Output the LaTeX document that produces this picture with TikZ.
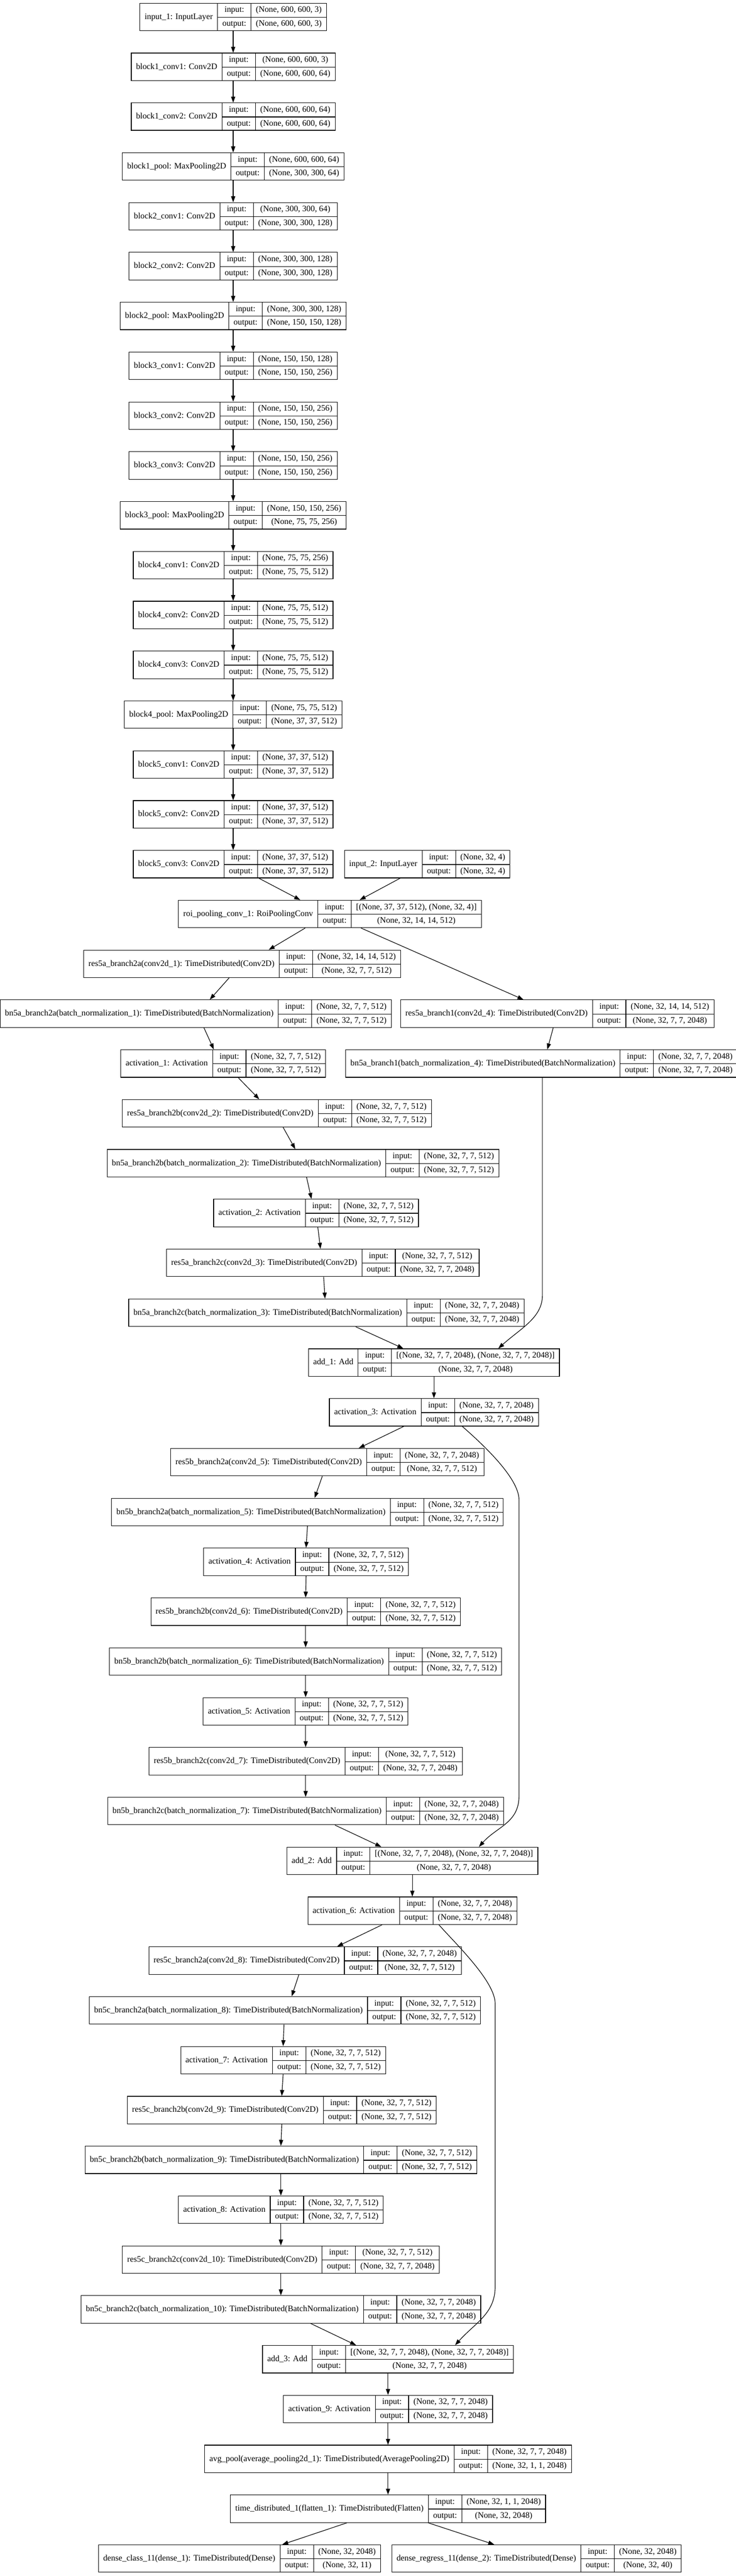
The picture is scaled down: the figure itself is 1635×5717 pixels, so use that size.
\documentclass[tikz,border=0pt]{standalone}
\usepackage{fontspec}
\setmainfont{Liberation Serif}
\usetikzlibrary{arrows.meta}

\setlength{\tabcolsep}{10.67pt}
\setlength{\arrayrulewidth}{1.33pt}
\newcommand{\rowstrut}{\rule[-10.3pt]{0pt}{30.5pt}}
% record: name | input/output | shapes
\newcommand{\rec}[3]{\begin{tabular}{c|c|c}
	& \rowstrut input: & #2 \\ \cline{2-3}
	\raisebox{15.25pt}[0pt][0pt]{#1} & \rowstrut output: & #3
\end{tabular}}

\begin{document}
\begin{tikzpicture}[
	x = 1pt, y = 1pt,
	> = {Triangle[length=13.3pt, width=9.3pt]}, % arrow head style
	line width = 1.33pt, % line style
	Rec/.style={draw=black, inner sep=0pt, anchor=north, font=\fontsize{18.67}{22.4}\selectfont},
	]
	\useasboundingbox (0,0) rectangle (1635,-5717);

	% Nodes, one row every 110.6
	\node[Rec] (in1)  at (518,-6.5)    {\rec{input\_1: InputLayer}{(None, 600, 600, 3)}{(None, 600, 600, 3)}};
	\node[Rec] (b1c1) at (518,-117.1)  {\rec{block1\_conv1: Conv2D}{(None, 600, 600, 3)}{(None, 600, 600, 64)}};
	\node[Rec] (b1c2) at (518,-227.7)  {\rec{block1\_conv2: Conv2D}{(None, 600, 600, 64)}{(None, 600, 600, 64)}};
	\node[Rec] (b1p)  at (518,-338.3)  {\rec{block1\_pool: MaxPooling2D}{(None, 600, 600, 64)}{(None, 300, 300, 64)}};
	\node[Rec] (b2c1) at (518,-448.9)  {\rec{block2\_conv1: Conv2D}{(None, 300, 300, 64)}{(None, 300, 300, 128)}};
	\node[Rec] (b2c2) at (518,-559.5)  {\rec{block2\_conv2: Conv2D}{(None, 300, 300, 128)}{(None, 300, 300, 128)}};
	\node[Rec] (b2p)  at (518,-670.1)  {\rec{block2\_pool: MaxPooling2D}{(None, 300, 300, 128)}{(None, 150, 150, 128)}};
	\node[Rec] (b3c1) at (518,-780.7)  {\rec{block3\_conv1: Conv2D}{(None, 150, 150, 128)}{(None, 150, 150, 256)}};
	\node[Rec] (b3c2) at (518,-891.3)  {\rec{block3\_conv2: Conv2D}{(None, 150, 150, 256)}{(None, 150, 150, 256)}};
	\node[Rec] (b3c3) at (518,-1001.9) {\rec{block3\_conv3: Conv2D}{(None, 150, 150, 256)}{(None, 150, 150, 256)}};
	\node[Rec] (b3p)  at (518,-1112.5) {\rec{block3\_pool: MaxPooling2D}{(None, 150, 150, 256)}{(None, 75, 75, 256)}};
	\node[Rec] (b4c1) at (518,-1223.1) {\rec{block4\_conv1: Conv2D}{(None, 75, 75, 256)}{(None, 75, 75, 512)}};
	\node[Rec] (b4c2) at (518,-1333.7) {\rec{block4\_conv2: Conv2D}{(None, 75, 75, 512)}{(None, 75, 75, 512)}};
	\node[Rec] (b4c3) at (518,-1444.3) {\rec{block4\_conv3: Conv2D}{(None, 75, 75, 512)}{(None, 75, 75, 512)}};
	\node[Rec] (b4p)  at (518,-1554.9) {\rec{block4\_pool: MaxPooling2D}{(None, 75, 75, 512)}{(None, 37, 37, 512)}};
	\node[Rec] (b5c1) at (518,-1665.5) {\rec{block5\_conv1: Conv2D}{(None, 37, 37, 512)}{(None, 37, 37, 512)}};
	\node[Rec] (b5c2) at (518,-1776.1) {\rec{block5\_conv2: Conv2D}{(None, 37, 37, 512)}{(None, 37, 37, 512)}};
	\node[Rec] (b5c3) at (518,-1886.7) {\rec{block5\_conv3: Conv2D}{(None, 37, 37, 512)}{(None, 37, 37, 512)}};
	\node[Rec] (in2)  at (949,-1886.7) {\rec{input\_2: InputLayer}{(None, 32, 4)}{(None, 32, 4)}};
	\node[Rec] (roi)  at (733,-1997.3) {\rec{roi\_pooling\_conv\_1: RoiPoolingConv}{[(None, 37, 37, 512), (None, 32, 4)]}{(None, 32, 14, 14, 512)}};

	\node[Rec] (r5a2a)  at (538,-2107.9)  {\rec{res5a\_branch2a(conv2d\_1): TimeDistributed(Conv2D)}{(None, 32, 14, 14, 512)}{(None, 32, 7, 7, 512)}};
	\node[Rec] (bn5a2a) at (435,-2218.5)  {\rec{bn5a\_branch2a(batch\_normalization\_1): TimeDistributed(BatchNormalization)}{(None, 32, 7, 7, 512)}{(None, 32, 7, 7, 512)}};
	\node[Rec] (r5a1)   at (1238,-2218.5) {\rec{res5a\_branch1(conv2d\_4): TimeDistributed(Conv2D)}{(None, 32, 14, 14, 512)}{(None, 32, 7, 7, 2048)}};
	\node[Rec] (act1)   at (496,-2329.1)  {\rec{activation\_1: Activation}{(None, 32, 7, 7, 512)}{(None, 32, 7, 7, 512)}};
	\node[Rec] (bn5a1)  at (1203,-2329.1) {\rec{bn5a\_branch1(batch\_normalization\_4): TimeDistributed(BatchNormalization)}{(None, 32, 7, 7, 2048)}{(None, 32, 7, 7, 2048)}};
	\node[Rec] (r5a2b)  at (615,-2439.7)  {\rec{res5a\_branch2b(conv2d\_2): TimeDistributed(Conv2D)}{(None, 32, 7, 7, 512)}{(None, 32, 7, 7, 512)}};
	\node[Rec] (bn5a2b) at (673,-2550.3)  {\rec{bn5a\_branch2b(batch\_normalization\_2): TimeDistributed(BatchNormalization)}{(None, 32, 7, 7, 512)}{(None, 32, 7, 7, 512)}};
	\node[Rec] (act2)   at (702,-2660.9)  {\rec{activation\_2: Activation}{(None, 32, 7, 7, 512)}{(None, 32, 7, 7, 512)}};
	\node[Rec] (r5a2c)  at (717,-2771.5)  {\rec{res5a\_branch2c(conv2d\_3): TimeDistributed(Conv2D)}{(None, 32, 7, 7, 512)}{(None, 32, 7, 7, 2048)}};
	\node[Rec] (bn5a2c) at (725,-2882.1)  {\rec{bn5a\_branch2c(batch\_normalization\_3): TimeDistributed(BatchNormalization)}{(None, 32, 7, 7, 2048)}{(None, 32, 7, 7, 2048)}};
	\node[Rec] (add1)   at (964,-2992.7)  {\rec{add\_1: Add}{[(None, 32, 7, 7, 2048), (None, 32, 7, 7, 2048)]}{(None, 32, 7, 7, 2048)}};
	\node[Rec] (act3)   at (964,-3103.3)  {\rec{activation\_3: Activation}{(None, 32, 7, 7, 2048)}{(None, 32, 7, 7, 2048)}};

	\node[Rec] (r5b2a)  at (727,-3213.9)  {\rec{res5b\_branch2a(conv2d\_5): TimeDistributed(Conv2D)}{(None, 32, 7, 7, 2048)}{(None, 32, 7, 7, 512)}};
	\node[Rec] (bn5b2a) at (683,-3324.5)  {\rec{bn5b\_branch2a(batch\_normalization\_5): TimeDistributed(BatchNormalization)}{(None, 32, 7, 7, 512)}{(None, 32, 7, 7, 512)}};
	\node[Rec] (act4)   at (680,-3435.1)  {\rec{activation\_4: Activation}{(None, 32, 7, 7, 512)}{(None, 32, 7, 7, 512)}};
	\node[Rec] (r5b2b)  at (679,-3545.7)  {\rec{res5b\_branch2b(conv2d\_6): TimeDistributed(Conv2D)}{(None, 32, 7, 7, 512)}{(None, 32, 7, 7, 512)}};
	\node[Rec] (bn5b2b) at (679,-3656.3)  {\rec{bn5b\_branch2b(batch\_normalization\_6): TimeDistributed(BatchNormalization)}{(None, 32, 7, 7, 512)}{(None, 32, 7, 7, 512)}};
	\node[Rec] (act5)   at (679,-3766.9)  {\rec{activation\_5: Activation}{(None, 32, 7, 7, 512)}{(None, 32, 7, 7, 512)}};
	\node[Rec] (r5b2c)  at (679,-3877.5)  {\rec{res5b\_branch2c(conv2d\_7): TimeDistributed(Conv2D)}{(None, 32, 7, 7, 512)}{(None, 32, 7, 7, 2048)}};
	\node[Rec] (bn5b2c) at (679,-3988.1)  {\rec{bn5b\_branch2c(batch\_normalization\_7): TimeDistributed(BatchNormalization)}{(None, 32, 7, 7, 2048)}{(None, 32, 7, 7, 2048)}};
	\node[Rec] (add2)   at (916,-4098.7)  {\rec{add\_2: Add}{[(None, 32, 7, 7, 2048), (None, 32, 7, 7, 2048)]}{(None, 32, 7, 7, 2048)}};
	\node[Rec] (act6)   at (916,-4209.3)  {\rec{activation\_6: Activation}{(None, 32, 7, 7, 2048)}{(None, 32, 7, 7, 2048)}};

	\node[Rec] (r5c2a)  at (678,-4319.9)  {\rec{res5c\_branch2a(conv2d\_8): TimeDistributed(Conv2D)}{(None, 32, 7, 7, 2048)}{(None, 32, 7, 7, 512)}};
	\node[Rec] (bn5c2a) at (633,-4430.5)  {\rec{bn5c\_branch2a(batch\_normalization\_8): TimeDistributed(BatchNormalization)}{(None, 32, 7, 7, 512)}{(None, 32, 7, 7, 512)}};
	\node[Rec] (act7)   at (629,-4541.1)  {\rec{activation\_7: Activation}{(None, 32, 7, 7, 512)}{(None, 32, 7, 7, 512)}};
	\node[Rec] (r5c2b)  at (626,-4651.7)  {\rec{res5c\_branch2b(conv2d\_9): TimeDistributed(Conv2D)}{(None, 32, 7, 7, 512)}{(None, 32, 7, 7, 512)}};
	\node[Rec] (bn5c2b) at (624,-4762.3)  {\rec{bn5c\_branch2b(batch\_normalization\_9): TimeDistributed(BatchNormalization)}{(None, 32, 7, 7, 512)}{(None, 32, 7, 7, 512)}};
	\node[Rec] (act8)   at (624,-4872.9)  {\rec{activation\_8: Activation}{(None, 32, 7, 7, 512)}{(None, 32, 7, 7, 512)}};
	\node[Rec] (r5c2c)  at (624,-4983.5)  {\rec{res5c\_branch2c(conv2d\_10): TimeDistributed(Conv2D)}{(None, 32, 7, 7, 512)}{(None, 32, 7, 7, 2048)}};
	\node[Rec] (bn5c2c) at (624,-5094.1)  {\rec{bn5c\_branch2c(batch\_normalization\_10): TimeDistributed(BatchNormalization)}{(None, 32, 7, 7, 2048)}{(None, 32, 7, 7, 2048)}};
	\node[Rec] (add3)   at (862,-5204.7)  {\rec{add\_3: Add}{[(None, 32, 7, 7, 2048), (None, 32, 7, 7, 2048)]}{(None, 32, 7, 7, 2048)}};
	\node[Rec] (act9)   at (862,-5315.3)  {\rec{activation\_9: Activation}{(None, 32, 7, 7, 2048)}{(None, 32, 7, 7, 2048)}};
	\node[Rec] (avgp)   at (862,-5425.9)  {\rec{avg\_pool(average\_pooling2d\_1): TimeDistributed(AveragePooling2D)}{(None, 32, 7, 7, 2048)}{(None, 32, 1, 1, 2048)}};
	\node[Rec] (td1)    at (862,-5536.5)  {\rec{time\_distributed\_1(flatten\_1): TimeDistributed(Flatten)}{(None, 32, 1, 1, 2048)}{(None, 32, 2048)}};
	\node[Rec] (dcls)   at (532,-5647.1)  {\rec{dense\_class\_11(dense\_1): TimeDistributed(Dense)}{(None, 32, 2048)}{(None, 32, 11)}};
	\node[Rec] (dreg)   at (1192,-5647.1) {\rec{dense\_regress\_11(dense\_2): TimeDistributed(Dense)}{(None, 32, 2048)}{(None, 32, 40)}};

	% Paths connecting nodes
	\path[->] (in1.south) edge (b1c1.north);
	\path[->] (b1c1.south) edge (b1c2.north);
	\path[->] (b1c2.south) edge (b1p.north);
	\path[->] (b1p.south) edge (b2c1.north);
	\path[->] (b2c1.south) edge (b2c2.north);
	\path[->] (b2c2.south) edge (b2p.north);
	\path[->] (b2p.south) edge (b3c1.north);
	\path[->] (b3c1.south) edge (b3c2.north);
	\path[->] (b3c2.south) edge (b3c3.north);
	\path[->] (b3c3.south) edge (b3p.north);
	\path[->] (b3p.south) edge (b4c1.north);
	\path[->] (b4c1.south) edge (b4c2.north);
	\path[->] (b4c2.south) edge (b4c3.north);
	\path[->] (b4c3.south) edge (b4p.north);
	\path[->] (b4p.south) edge (b5c1.north);
	\path[->] (b5c1.south) edge (b5c2.north);
	\path[->] (b5c2.south) edge (b5c3.north);
	\path[->] ([xshift=57]b5c3.south) edge ([xshift=-66]roi.north);
	\path[->] ([xshift=-60]in2.south) edge ([xshift=66]roi.north);
	\path[->] ([xshift=-55]roi.south) edge ([xshift=59]r5a2a.north);
	\path[->] ([xshift=69]roi.south) edge ([xshift=-75]r5a1.north);

	\path[->] ([xshift=-29]r5a2a.south) edge ([xshift=31]bn5a2a.north);
	\path[->] ([xshift=-9]r5a1.south) edge ([xshift=13]bn5a1.north);
	\path[->] ([xshift=18]bn5a2a.south) edge ([xshift=-21]act1.north);
	\path[->] ([xshift=33]act1.south) edge ([xshift=-39]r5a2b.north);
	\path[->] ([xshift=14]r5a2b.south) edge ([xshift=-17]bn5a2b.north);
	\path[->] ([xshift=8]bn5a2b.south) edge ([xshift=-10]act2.north);
	\path[->] ([xshift=4]act2.south) edge ([xshift=-5]r5a2c.north);
	\path[->] ([xshift=2]r5a2c.south) edge ([xshift=-3]bn5a2c.north);
	\path[->] ([xshift=65]bn5a2c.south) edge ([xshift=-68]add1.north);
	\draw[->] ([xshift=2]bn5a1.south) -- ++(0,-483)
		.. controls +(0,-50) and +(50,45) .. ([xshift=143]add1.north);
	\path[->] (add1.south) edge (act3.north);

	\path[->] ([xshift=-67]act3.south) edge ([xshift=70]r5b2a.north);
	\draw[->] ([xshift=63]act3.south) .. controls +(40,-35) and +(0,50) .. ++(126,-163)
		-- ++(0,-657) .. controls +(0,-60) and +(40,45) .. ([xshift=148]add2.north);
	\path[->] ([xshift=-11]r5b2a.south) edge ([xshift=16]bn5b2a.north);
	\path[->] (bn5b2a.south) edge (act4.north);
	\path[->] (act4.south) edge (r5b2b.north);
	\path[->] (r5b2b.south) edge (bn5b2b.north);
	\path[->] (bn5b2b.south) edge (act5.north);
	\path[->] (act5.south) edge (r5b2c.north);
	\path[->] (r5b2c.south) edge (bn5b2c.north);
	\path[->] ([xshift=65]bn5b2c.south) edge ([xshift=-69]add2.north);
	\path[->] (add2.south) edge (act6.north);

	\path[->] ([xshift=-67]act6.south) edge ([xshift=71]r5c2a.north);
	\draw[->] ([xshift=59]act6.south) .. controls +(35,-40) and +(0,50) .. ++(125,-175)
		-- ++(0,-628) .. controls +(0,-60) and +(45,50) .. ([xshift=149]add3.north);
	\path[->] ([xshift=-14]r5c2a.south) edge ([xshift=15]bn5c2a.north);
	\path[->] ([xshift=-2]bn5c2a.south) edge (act7.north);
	\path[->] (act7.south) edge (r5c2b.north);
	\path[->] (r5c2b.south) edge (bn5c2b.north);
	\path[->] (bn5c2b.south) edge (act8.north);
	\path[->] (act8.south) edge (r5c2c.north);
	\path[->] (r5c2c.south) edge (bn5c2c.north);
	\path[->] ([xshift=66]bn5c2c.south) edge ([xshift=-71]add3.north);
	\path[->] (add3.south) edge (act9.north);
	\path[->] (act9.south) edge (avgp.north);
	\path[->] (avgp.south) edge (td1.north);
	\path[->] ([xshift=-91]td1.south) edge ([xshift=95]dcls.north);
	\path[->] ([xshift=89]td1.south) edge ([xshift=-94]dreg.north);

\end{tikzpicture}
\end{document}
